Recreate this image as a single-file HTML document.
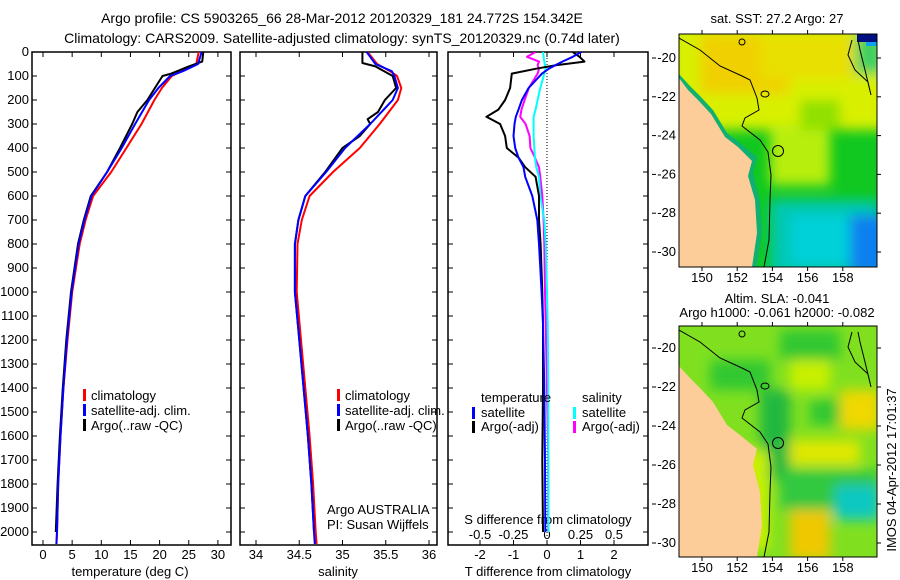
<!DOCTYPE html>
<html><head><meta charset="utf-8">
<style>
html,body{margin:0;padding:0;background:#fff;}
svg{display:block;font-family:"Liberation Sans",sans-serif;font-size:13px;}
</style></head>
<body>
<svg id="fig" width="900" height="580" viewBox="0 0 900 580">
<defs>
<filter id="blur1" x="-10%" y="-10%" width="120%" height="120%"><feGaussianBlur stdDeviation="6"/></filter>
<clipPath id="clipTop"><rect x="679" y="34" width="198" height="233"/></clipPath>
<clipPath id="clipBot"><rect x="679" y="326" width="198" height="231"/></clipPath>
<clipPath id="clipP1"><rect x="32" y="52" width="199" height="493"/></clipPath>
<clipPath id="clipP2"><rect x="240" y="52" width="197" height="493"/></clipPath>
<clipPath id="clipP3"><rect x="448" y="52" width="200" height="493"/></clipPath>
</defs>
<text x="342" y="23" text-anchor="middle" style="font-size:14px">Argo profile: CS 5903265_66 28-Mar-2012 20120329_181 24.772S 154.342E</text>
<text x="342" y="43" text-anchor="middle" style="font-size:14px">Climatology: CARS2009. Satellite-adjusted climatology: synTS_20120329.nc (0.74d later)</text>

<g id="axes"></g>
<g id="series"></g>

<g>
<rect x="83" y="389" width="3" height="12" fill="#f00"/><text x="91" y="400">climatology</text>
<rect x="83" y="404" width="3" height="12" fill="#00f"/><text x="91" y="415">satellite-adj. clim.</text>
<rect x="83" y="419" width="3" height="12" fill="#000"/><text x="91" y="430">Argo(..raw -QC)</text>
</g>
<g>
<rect x="337" y="389" width="3" height="12" fill="#f00"/><text x="345" y="400">climatology</text>
<rect x="337" y="404" width="3" height="12" fill="#00f"/><text x="345" y="415">satellite-adj. clim.</text>
<rect x="337" y="419" width="3" height="12" fill="#000"/><text x="345" y="430">Argo(..raw -QC)</text>
</g>
<g>
<text x="481" y="402">temperature</text>
<text x="582" y="402">salinity</text>
<rect x="472" y="407" width="3" height="12" fill="#00f"/><text x="481" y="417">satellite</text>
<rect x="472" y="421" width="3" height="12" fill="#000"/><text x="481" y="431">Argo(-adj)</text>
<rect x="573" y="407" width="3" height="12" fill="#0ff"/><text x="582" y="417">satellite</text>
<rect x="573" y="421" width="3" height="12" fill="#f0f"/><text x="582" y="431">Argo(-adj)</text>
</g>
<text x="327" y="514">Argo AUSTRALIA</text>
<text x="327" y="529">PI: Susan Wijffels</text>

<text x="777" y="23" text-anchor="middle">sat. SST: 27.2 Argo: 27</text>
<g clip-path="url(#clipTop)">
<rect x="679" y="34" width="198" height="233" fill="#10c820"/>
<g filter="url(#blur1)">
<rect x="670" y="25" width="220" height="105" fill="#d8f000"/>
<rect x="700" y="34" width="90" height="60" fill="#f0d000"/>
<rect x="760" y="34" width="100" height="45" fill="#e8e000"/>
<rect x="770" y="125" width="60" height="60" fill="#b8ee10"/>
<rect x="800" y="100" width="40" height="30" fill="#90e000"/>
<rect x="770" y="200" width="110" height="75" fill="#00c8b0"/>
<rect x="790" y="215" width="70" height="50" fill="#00d0d8"/>
<rect x="850" y="215" width="40" height="60" fill="#1080f0"/>
<rect x="855" y="34" width="30" height="40" fill="#40d060"/>
</g>
<rect x="857" y="34" width="20" height="8" fill="#001080"/>
<rect x="866" y="42" width="11" height="4" fill="#10a0f0"/>
<polygon points="679,74 690,86 700,96 713,110 727,133 740,143 757,157 753,173 760,200 762,233 757,267 679,267" fill="#10b070"/>
<polygon points="679,78 688,90 698,100 711,114 725,137 738,147 752,161 748,176 755,200 757,233 752,267 679,267" fill="#fccc99"/>
<polyline points="679,38 700,50 720,66 742,76 750,80 757,98 759,110 745,118 742,126 760,140 768,152 771,175 770,200 769,240 764,267" fill="none" stroke="#000" stroke-width="1"/>
<polyline points="852,40 848,55 855,70 868,82 871,95 865,70 860,50 858,40" fill="none" stroke="#000" stroke-width="1"/>
<circle cx="778" cy="151" r="5.5" fill="none" stroke="#000" stroke-width="1"/>
<ellipse cx="742" cy="42" rx="3" ry="3" fill="none" stroke="#000"/>
<ellipse cx="765" cy="94" rx="4" ry="3" fill="none" stroke="#000"/>
</g>
<rect x="679" y="34" width="198" height="233" fill="none" stroke="#000" stroke-width="1"/>

<text x="777" y="303" text-anchor="middle">Altim. SLA: -0.041</text>
<text x="777" y="317" text-anchor="middle">Argo h1000: -0.061 h2000: -0.082</text>
<g clip-path="url(#clipBot)">
<rect x="679" y="326" width="198" height="231" fill="#80e020"/>
<g filter="url(#blur1)">
<rect x="710" y="360" width="60" height="30" fill="#30c830"/>
<rect x="760" y="390" width="30" height="90" fill="#20b840"/>
<rect x="780" y="330" width="60" height="30" fill="#30c830"/>
<rect x="810" y="400" width="60" height="25" fill="#30c830"/>
<rect x="790" y="360" width="40" height="30" fill="#c8f000"/>
<rect x="840" y="390" width="40" height="40" fill="#f0d800"/>
<rect x="790" y="440" width="70" height="25" fill="#e0e800"/>
<rect x="780" y="470" width="100" height="40" fill="#30c840"/>
<rect x="835" y="485" width="45" height="35" fill="#10c8c0"/>
<rect x="790" y="510" width="40" height="50" fill="#f0c800"/>
<rect x="679" y="450" width="90" height="100" fill="#c8f000"/>
</g>
<polygon points="679,366 690,378 700,388 713,402 727,425 740,435 757,449 753,465 760,492 762,525 757,557 679,557" fill="#fccc99"/>
<polyline points="679,330 700,342 720,358 742,368 750,372 757,390 759,402 745,410 742,418 760,432 768,444 771,467 770,492 769,532 764,557" fill="none" stroke="#000" stroke-width="1"/>
<polyline points="852,332 848,347 855,362 868,374 871,387 865,362 860,342 858,332" fill="none" stroke="#000" stroke-width="1"/>
<circle cx="778" cy="443" r="5.5" fill="none" stroke="#000" stroke-width="1"/>
<ellipse cx="742" cy="334" rx="3" ry="3" fill="none" stroke="#000"/>
<ellipse cx="765" cy="386" rx="4" ry="3" fill="none" stroke="#000"/>
</g>
<rect x="679" y="326" width="198" height="231" fill="none" stroke="#000" stroke-width="1"/>
<text transform="translate(896,470) rotate(-90)" text-anchor="middle">IMOS 04-Apr-2012 17:01:37</text>
<g id="mapaxes"></g>
</svg>
<script>
const depthTicks = [0,100,200,300,400,500,600,700,800,900,1000,1100,1200,1300,1400,1500,1600,1700,1800,1900,2000];
const tempTicks = [0,5,10,15,20,25,30];
const salTicks = [34,34.5,35,35.5,36];
const tdiffTicks = [-2,-1,0,1,2];
const sdiffTicks = [-0.5,-0.25,0,0.25,0.5];

const climDepth = [0,50,80,100,150,200,300,400,500,600,700,800,1000,1200,1400,1600,1800,2000,2050];
const climTemp  = [26.7,26.3,23.8,22.1,20.4,19.1,16.9,14.3,11.7,8.6,7.3,6.3,5.0,4.2,3.5,3.0,2.6,2.4,2.3];
const satTemp   = [27.2,26.6,24.0,21.8,19.8,18.2,15.8,13.5,11.0,8.3,7.1,6.1,4.9,4.1,3.5,3.0,2.6,2.4,2.3];
const argoDepth = [0,40,60,90,100,150,200,250,300,400,500,600,700,800,1000,1200,1400,1600,1800,2000];
const argoTemp  = [27.5,27.3,25.0,22.0,20.5,19.2,17.9,16.2,15.3,13.2,11.0,8.2,7.0,6.0,4.8,4.0,3.4,2.9,2.5,2.2];

const climSal = [35.29,35.40,35.55,35.63,35.68,35.64,35.43,35.20,34.89,34.62,34.53,34.48,34.47,34.52,34.57,34.62,34.66,34.69,34.70];
const satSal  = [35.28,35.38,35.57,35.60,35.64,35.58,35.32,35.03,34.81,34.57,34.49,34.45,34.45,34.50,34.55,34.60,34.64,34.67,34.68];
const argoSalDepth = [0,46,60,100,150,200,250,280,300,350,400,500,600,700,800,1000,1200,1400,1600,1800,2000];
const argoSal = [35.23,35.23,35.38,35.58,35.62,35.49,35.41,35.29,35.32,35.20,35.00,34.80,34.57,34.49,34.45,34.45,34.50,34.55,34.60,34.64,34.67];

const diffDepth = [0,20,40,55,70,90,150,200,240,270,300,350,400,440,480,520,600,700,800,1000,1130,1400,1700,2000];
const argoTdiff = [0.77,0.97,1.12,0.26,-0.34,-1.05,-1.1,-1.25,-1.45,-1.81,-1.4,-1.25,-1.2,-0.85,-0.65,-0.34,-0.24,-0.24,-0.19,-0.14,-0.12,-0.12,-0.14,-0.12];
const satTdiff  = [1.02,0.77,0.46,0.25,0.05,-0.15,-0.55,-0.75,-0.85,-0.93,-0.97,-1.0,-0.95,-0.85,-0.7,-0.65,-0.44,-0.29,-0.24,-0.16,-0.12,-0.08,-0.06,-0.05];
const argoSdiff = [-0.086,-0.149,-0.06,-0.07,-0.06,-0.07,-0.136,-0.167,-0.19,-0.2,-0.16,-0.13,-0.124,-0.09,-0.06,-0.05,-0.035,-0.025,-0.02,-0.015,-0.01,0.0,0.01,0.01];
const satSdiff  = [-0.03,-0.025,-0.02,-0.015,-0.01,-0.02,-0.05,-0.07,-0.085,-0.1,-0.1,-0.1,-0.095,-0.09,-0.08,-0.06,-0.05,-0.02,-0.01,0.0,0.005,0.01,0.01,0.01];

const lonTicks = [150,152,154,156,158];
const latTicks = [-20,-22,-24,-26,-28,-30];

const yD = d => 52 + d*0.24;
const xT = t => 43 + t*5.83;
const xS = s => 256 + (s-34)*86.5;
const xTd = v => 547 + v*33.5;
const xSd = v => 547 + v*134;
const xLon = l => 702 + (l-150)*17.6;
const yLatTop = l => 58 + (-20-l)*19.4;
const yLatBot = l => 348 + (-20-l)*19.5;

const NS = "http://www.w3.org/2000/svg";
function mk(tag, attrs, parent){const e=document.createElementNS(NS,tag);for(const k in attrs)e.setAttribute(k,attrs[k]);parent.appendChild(e);return e;}
const axes = document.getElementById('axes');
const series = document.getElementById('series');

const panels = [
 {x0:32,x1:231,ticks:tempTicks,sx:xT,label:"temperature (deg C)",lx:130,name:"temperature-panel"},
 {x0:240,x1:437,ticks:salTicks,sx:xS,label:"salinity",lx:338,name:"salinity-panel"},
 {x0:448,x1:648,ticks:tdiffTicks,sx:xTd,label:"T difference from climatology",lx:548,name:"difference-panel"}
];
panels.forEach((p,i)=>{
  const g = mk('g',{},axes);
  
  
  mk('rect',{x:p.x0,y:52,width:p.x1-p.x0,height:493,fill:'none',stroke:'#000','stroke-width':1.5},g);
  depthTicks.forEach(d=>{
    const y=yD(d);
    mk('line',{x1:p.x0,x2:p.x0+5,y1:y,y2:y,stroke:'#000'},g);
    mk('line',{x1:p.x1-5,x2:p.x1,y1:y,y2:y,stroke:'#000'},g);
  });
  p.ticks.forEach(t=>{
    const x=p.sx(t);
    mk('line',{x1:x,x2:x,y1:52,y2:57,stroke:'#000'},g);
    mk('line',{x1:x,x2:x,y1:540,y2:545,stroke:'#000'},g);
    const tx=mk('text',{x:x,y:559,'text-anchor':'middle'},g);
    tx.textContent=String(t);
    
    
  });
  const lt = mk('text',{x:p.lx,y:576,'text-anchor':'middle'},g);
  lt.textContent=p.label;
  
  
});
depthTicks.forEach(d=>{
  const t=mk('text',{x:29,y:yD(d)+4,'text-anchor':'end'},axes);
  t.textContent=String(d);
  
  
});
sdiffTicks.forEach(v=>{
  const t=mk('text',{x:xSd(v),y:539,'text-anchor':'middle'},axes);
  t.textContent=String(v);
  
  
});
const st=mk('text',{x:548,y:524,'text-anchor':'middle'},axes);
st.textContent="S difference from climatology";


const zl=mk('line',{x1:547,x2:547,y1:52,y2:545,stroke:'#000','stroke-dasharray':'1,2'},axes);



function line(depths, vals, sx, color, clip, name){
  const pts = depths.map((d,i)=>sx(vals[i]).toFixed(1)+','+yD(d).toFixed(1)).join(' ');
  const pl = mk('polyline',{points:pts,fill:'none',stroke:color,'stroke-width':2,'clip-path':'url(#'+clip+')','stroke-linejoin':'round'},series);
  
  
}
line(climDepth, climTemp, xT, '#f00', 'clipP1', 'temp-climatology-line');
line(argoDepth, argoTemp, xT, '#000', 'clipP1', 'temp-argo-line');
line(climDepth, satTemp, xT, '#00f', 'clipP1', 'temp-satellite-line');
line(climDepth, climSal, xS, '#f00', 'clipP2', 'sal-climatology-line');
line(argoSalDepth, argoSal, xS, '#000', 'clipP2', 'sal-argo-line');
line(climDepth, satSal, xS, '#00f', 'clipP2', 'sal-satellite-line');
line(diffDepth, argoSdiff, xSd, '#f0f', 'clipP3', 'sdiff-argo-line');
line(diffDepth, satSdiff, xSd, '#0ff', 'clipP3', 'sdiff-satellite-line');
line(diffDepth, argoTdiff, xTd, '#000', 'clipP3', 'tdiff-argo-line');
line(diffDepth, satTdiff, xTd, '#00f', 'clipP3', 'tdiff-satellite-line');

const ma = document.getElementById('mapaxes');
[[34,267,yLatTop],[326,557,yLatBot]].forEach(([y0,y1,yl],k)=>{
  lonTicks.forEach(l=>{
    const x=xLon(l);
    mk('line',{x1:x,x2:x,y1:y0-4,y2:y0,stroke:'#000'},ma);
    mk('line',{x1:x,x2:x,y1:y1,y2:y1+4,stroke:'#000'},ma);
    const t=mk('text',{x:x,y:y1+15,'text-anchor':'middle'},ma);
    t.textContent=String(l);
    
    
  });
  latTicks.forEach(l=>{
    const y=yl(l);
    mk('line',{x1:877,x2:881,y1:y,y2:y,stroke:'#000'},ma);
    mk('line',{x1:652,x2:656,y1:y,y2:y,stroke:'#000'},ma);
    const t=mk('text',{x:676,y:y+4,'text-anchor':'end'},ma);
    t.textContent=String(l);
    
    
  });
});
</script>
</body></html>
